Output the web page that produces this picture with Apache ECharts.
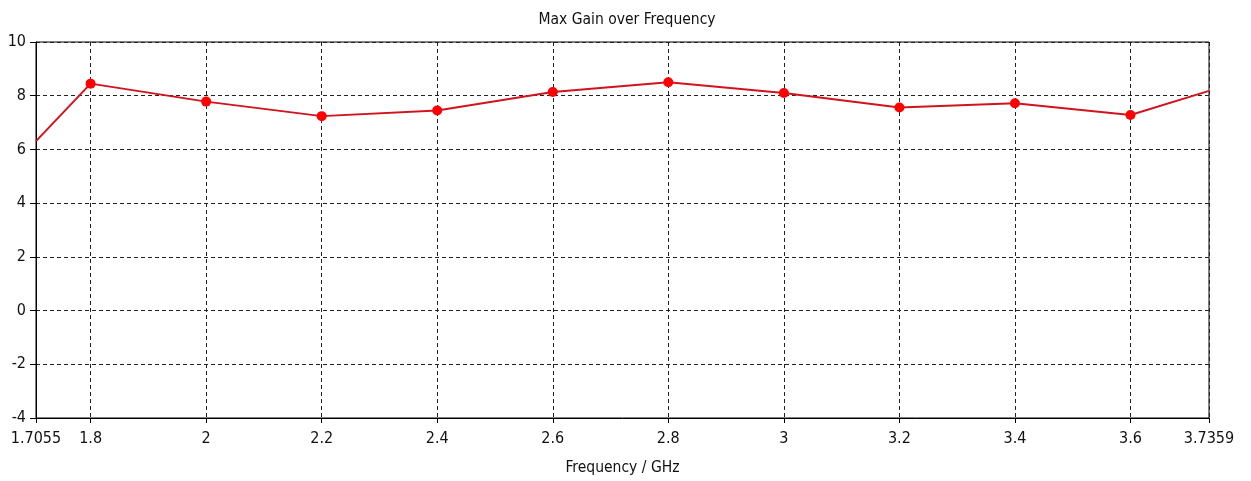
<!DOCTYPE html>
<html>
<head>
    <meta charset="utf-8">
    <style type="text/css">
        html,body { margin: 0px; padding: 0px; height: 100%; background: #fff; }
    </style>
    <script src="https://cdn.jsdelivr.net/npm/echarts@6/dist/echarts.min.js"></script>
</head>
<body>
    <div id="canvas1" style="width: 1251px; height: 481px;"></div>
    <script type="text/javascript">
        // 数据
        var freq = [1.7055, 1.8, 2.0, 2.2, 2.4, 2.6, 2.8, 3.0, 3.2, 3.4, 3.6, 3.7359];
        var gain = [6.31, 8.45, 7.78, 7.24, 7.45, 8.14, 8.50, 8.10, 7.56, 7.72, 7.28, 8.18];
        var xTicks = [1.7055, 1.8, 2, 2.2, 2.4, 2.6, 2.8, 3, 3.2, 3.4, 3.6, 3.7359];
        var xMin = 1.7055, xMax = 3.7359;
        var yMin = -4, yMax = 10, yStep = 2;

        var font = '"DejaVu Sans Condensed", "DejaVu Sans", sans-serif';
        var points = freq.map(function (f, i) { return [f, gain[i]]; });

        var myChart1 = echarts.init(document.getElementById("canvas1"));
        var option1 = {
            animation: false,
            backgroundColor: '#fff',
            title: {
                text: 'Max Gain over Frequency',
                left: 622, top: 7, textAlign: 'center',
                textStyle: { fontFamily: font, fontSize: 15.5, fontWeight: 'normal', color: '#111' }
            },
            grid: {
                left: 36, right: 42, top: 42, bottom: 63,
                show: true, borderColor: '#000', borderWidth: 1
            },
            xAxis: {
                type: 'value', min: xMin, max: xMax,
                name: 'Frequency / GHz', nameLocation: 'middle', nameGap: 42,
                nameTextStyle: { fontFamily: font, fontSize: 15.5, color: '#111' },
                axisLine: { onZero: false, lineStyle: { color: '#000', width: 1 } },
                axisTick: { show: true, length: 5, inside: false, customValues: xTicks, lineStyle: { color: '#000' } },
                axisLabel: {
                    customValues: xTicks, margin: 13, color: '#111',
                    fontFamily: font, fontSize: 16,
                    formatter: function (v) { return String(+v.toFixed(4)); }
                },
                splitLine: { show: true, lineStyle: { color: '#222', type: [4, 3], width: 1 } }
            },
            yAxis: {
                type: 'value', min: yMin, max: yMax, interval: yStep,
                axisLine: { show: true, onZero: false, lineStyle: { color: '#000', width: 1 } },
                axisTick: { show: true, length: 6, lineStyle: { color: '#000' } },
                axisLabel: { margin: 10, color: '#111', fontFamily: font, fontSize: 16 },
                splitLine: { show: true, lineStyle: { color: '#222', type: [4, 3], width: 1 } }
            },
            series: [{
                type: 'line',
                data: points,
                symbol: 'circle',
                symbolSize: function (v) {
                    return (v[0] === xMin || v[0] === xMax) ? 0 : 10;
                },
                lineStyle: { color: '#d0141e', width: 2 },
                itemStyle: { color: '#ff0000', borderWidth: 0 },
                z: 5
            }]
        };
        myChart1.setOption(option1);
    </script>
</body>
</html>
